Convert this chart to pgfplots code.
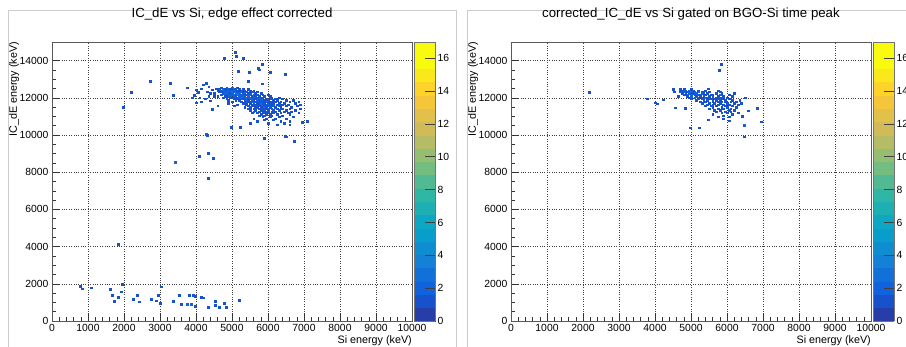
\documentclass[border=0pt]{standalone}
\usepackage{fontspec}
\setmainfont{Liberation Sans}
\usepackage{pgfplots}
\pgfplotsset{compat=1.18}
\usepackage{pgfplotstable}

\pgfplotstableread{
x y c
4778 14140 1
5083 14460 1
5111 14250 1
5306 14140 1
5833 13820 1
5722 13600 1
5750 13520 1
5167 13440 1
5472 13390 1
6056 13390 1
6472 13280 1
2722 12900 1
3278 12800 1
5444 12900 1
5833 12780 1
2194 12310 1
3361 12150 1
1972 11500 1
4278 12800 1
4278 10050 2
4300 10000 1
4333 9030 1
4083 8870 1
4472 8760 1
3417 8550 2
4333 7690 1
4972 10430 1
5222 10430 1
5889 9840 1
6472 9950 1
6500 9900 1
6722 9680 1
6944 10700 1
7083 10750 1
1833 4140 1
778 1880 1
833 1750 1
1083 1800 1
1611 1720 1
1944 1990 1
1917 1590 1
1667 1400 1
1833 1290 1
1722 1080 1
2250 1180 1
2361 1400 1
2417 1040 1
2750 1180 1
2889 1100 1
2944 1400 1
3000 970 1
3028 1860 1
3361 1080 1
3528 1400 1
3583 920 1
3806 1400 1
3750 920 2
3861 920 2
3917 1400 1
3972 1350 1
3972 800 1
4139 1290 1
4200 1250 1
4333 750 1
4528 1080 1
4528 860 1
4639 750 1
4778 970 1
4833 750 1
5185 1130 1
3750 12550 1
4000 12450 1
4050 12300 1
4150 12500 1
4300 12350 1
4350 12600 1
4400 12250 1
4450 12450 1
3950 12150 1
4100 12000 1
4250 11950 1
4500 12100 1
4550 12500 1
4200 12700 1
4400 11850 1
4150 11800 1
3900 12000 1
4600 11600 1
4450 11400 1
4000 11750 1
4350 12100 1
4700 12550 1
4850 12550 1
5000 12550 2
5150 12550 1
4650 12475 1
4750 12475 2
4800 12475 1
4900 12475 2
4950 12475 1
5050 12475 2
5100 12475 1
5200 12475 1
5300 12475 1
5450 12475 1
4600 12400 1
4700 12400 2
4750 12400 2
4850 12400 1
4900 12400 2
5000 12400 2
5050 12400 1
5100 12400 2
5150 12400 1
5250 12400 1
5350 12400 1
5500 12400 1
5600 12400 1
4650 12325 1
4700 12325 1
4800 12325 2
4850 12325 2
4950 12325 2
5000 12325 3
5050 12325 2
5150 12325 2
5200 12325 1
5250 12325 2
5300 12325 1
5400 12325 1
5550 12325 1
5700 12325 1
4500 12250 1
4750 12250 1
4800 12250 2
4900 12250 2
4950 12250 1
5000 12250 2
5100 12250 3
5150 12250 2
5200 12250 2
5300 12250 1
5350 12250 2
5450 12250 1
5500 12250 1
5650 12250 1
5800 12250 1
4700 12175 1
4850 12175 1
4900 12175 2
5000 12175 2
5050 12175 2
5100 12175 2
5150 12175 3
5250 12175 2
5300 12175 1
5350 12175 2
5400 12175 1
5500 12175 2
5600 12175 1
5700 12175 1
5850 12175 1
6000 12175 1
4600 12100 1
4800 12100 1
4900 12100 1
4950 12100 2
5050 12100 2
5100 12100 1
5200 12100 2
5250 12100 2
5300 12100 2
5350 12100 1
5450 12100 2
5550 12100 1
5600 12100 2
5650 12100 1
5750 12100 1
5900 12100 1
6050 12100 1
4750 12025 1
4950 12025 1
5000 12025 1
5100 12025 2
5150 12025 1
5200 12025 2
5300 12025 2
5350 12025 1
5400 12025 2
5500 12025 2
5550 12025 1
5650 12025 2
5700 12025 1
5800 12025 1
5850 12025 1
6100 12025 1
6300 12025 1
4850 11950 1
5050 11950 1
5150 11950 1
5250 11950 2
5300 11950 1
5400 11950 2
5450 11950 1
5500 11950 2
5600 11950 2
5650 11950 1
5700 11950 1
5750 11950 2
5850 11950 1
5950 11950 1
6050 11950 1
6200 11950 1
6400 11950 1
4900 11875 1
5100 11875 1
5200 11875 1
5350 11875 1
5400 11875 2
5450 11875 1
5550 11875 2
5600 11875 1
5700 11875 2
5750 11875 1
5800 11875 2
5900 11875 1
5950 11875 1
6000 11875 1
6150 11875 1
6250 11875 1
6500 11875 1
6700 11875 1
5000 11800 1
5250 11800 1
5350 11800 1
5450 11800 1
5500 11800 1
5550 11800 2
5600 11800 1
5650 11800 1
5750 11800 2
5800 11800 1
5850 11800 1
5950 11800 2
6050 11800 1
6100 11800 1
6200 11800 1
6350 11800 1
6600 11800 1
6850 11800 1
4900 11725 1
5300 11725 1
5400 11725 1
5500 11725 1
5600 11725 2
5700 11725 1
5750 11725 1
5800 11725 2
5900 11725 1
6000 11725 1
6050 11725 1
6150 11725 1
6300 11725 1
6450 11725 1
6750 11725 1
5150 11650 1
5400 11650 1
5550 11650 1
5650 11650 1
5700 11650 1
5800 11650 2
5850 11650 1
5950 11650 1
6000 11650 2
6100 11650 1
6250 11650 1
6400 11650 1
6550 11650 1
6900 11650 1
5050 11575 1
5450 11575 1
5550 11575 1
5650 11575 1
5750 11575 1
5850 11575 2
5900 11575 1
6000 11575 1
6050 11575 1
6150 11575 1
6300 11575 1
6500 11575 1
6800 11575 1
5350 11500 1
5500 11500 1
5650 11500 1
5700 11500 1
5800 11500 1
5900 11500 2
5950 11500 1
6050 11500 1
6200 11500 1
6350 11500 1
6650 11500 1
5450 11425 1
5600 11425 1
5750 11425 1
5850 11425 1
5950 11425 1
6000 11425 1
6100 11425 1
6250 11425 1
6400 11425 1
6600 11425 1
6900 11425 1
5500 11350 1
5650 11350 1
5800 11350 1
5900 11350 1
6000 11350 1
6150 11350 1
6300 11350 1
6500 11350 1
6750 11350 1
5600 11275 1
5750 11275 1
5850 11275 1
5950 11275 1
6100 11275 1
6200 11275 1
6450 11275 1
6650 11275 1
5550 11200 1
5700 11200 1
5900 11200 1
6000 11200 1
6150 11200 1
6350 11200 1
6550 11200 1
6850 11200 1
5800 11125 1
5950 11125 1
6050 11125 1
6250 11125 1
6600 11125 1
5750 11050 1
5900 11050 1
6100 11050 1
6400 11050 1
5850 10975 1
6050 10975 1
6300 10975 1
6700 10975 1
5600 10900 1
5950 10900 1
6200 10900 1
6500 10900 1
5900 10825 1
6150 10825 1
5700 10750 1
6350 10750 1
6600 10750 1
5500 10650 1
6000 10650 1
6450 10650 1
6250 10550 1
6600 10550 1
}\leftdata

\pgfplotstableread{
x y c
5833 13820 1
5787 13490 1
2175 12310 1
3769 11950 1
4000 11760 1
4213 11900 1
4065 11700 1
4509 12470 1
4528 12330 1
4556 11470 1
4833 11450 1
5481 12510 1
4972 10390 1
5231 10390 1
6481 10530 2
6481 9920 1
6935 10730 1
6833 11450 1
6583 11330 1
6426 11020 1
6065 10770 1
5898 10900 1
5481 10830 1
4700 12475 1
4800 12475 1
5000 12475 1
4750 12400 1
4850 12400 1
4950 12400 2
5050 12400 1
5200 12400 1
5400 12400 1
5750 12400 1
4700 12325 1
4800 12325 2
4900 12325 1
5000 12325 2
5100 12325 1
5200 12325 2
5300 12325 1
5500 12325 1
5800 12325 1
4750 12250 1
4850 12250 1
4950 12250 2
5050 12250 1
5150 12250 2
5300 12250 2
5350 12250 1
5450 12250 1
5700 12250 1
5850 12250 1
6200 12250 1
4800 12175 1
4900 12175 1
5000 12175 2
5100 12175 1
5200 12175 2
5250 12175 1
5400 12175 1
5550 12175 1
5600 12175 1
5800 12175 2
6050 12175 1
4650 12100 1
4900 12100 1
5000 12100 2
5150 12100 1
5250 12100 1
5350 12100 1
5500 12100 1
5600 12100 1
5750 12100 1
5900 12100 1
6150 12100 1
4950 12025 1
5100 12025 2
5200 12025 1
5300 12025 1
5400 12025 2
5450 12025 1
5600 12025 1
5700 12025 1
5800 12025 2
5850 12025 1
6000 12025 1
6500 12025 1
5000 11950 1
5200 11950 1
5300 11950 1
5500 11950 1
5550 11950 1
5650 11950 1
5750 11950 1
5900 11950 1
6050 11950 1
6100 11950 1
5150 11875 1
5350 11875 1
5450 11875 1
5600 11875 1
5700 11875 1
5800 11875 1
5950 11875 1
6150 11875 1
6350 11875 1
5250 11800 1
5400 11800 1
5600 11800 1
5750 11800 1
5850 11800 1
5950 11800 1
6100 11800 1
6250 11800 1
5300 11725 1
5500 11725 1
5650 11725 1
5800 11725 1
6000 11725 1
6200 11725 1
6400 11725 1
5450 11650 1
5600 11650 1
5750 11650 1
5900 11650 1
6050 11650 1
6300 11650 1
5400 11575 1
5550 11575 1
5700 11575 1
5950 11575 1
6150 11575 1
5600 11500 1
5850 11500 1
6000 11500 1
6250 11500 1
5500 11425 1
5750 11425 1
5900 11425 1
6100 11425 1
5650 11350 1
5800 11350 1
6050 11350 1
6200 11350 1
5700 11275 1
5950 11275 1
6100 11275 1
5850 11200 1
6000 11200 1
6300 11200 1
5600 11125 1
6150 11125 1
5900 11050 1
5750 10975 1
6050 10975 1
}\rightdata

\pgfplotsset{
  rootaxis/.style={
    scale only axis, width=360bp, height=279bp, anchor=south west,
    xmin=0, xmax=10000, ymin=0, ymax=15000,
    xtick={0,1000,...,10000}, ytick={0,2000,...,14000},
    minor x tick num=4, minor y tick num=3,
    tick pos=left, tick align=inside,
    major tick length=8bp, minor tick length=4bp,
    every tick/.style={black!80, line width=0.6bp},
    grid=major, major grid style={black!75, dotted, line width=0.55bp},
    axis line style={black!65, line width=0.8bp},
    ticklabel style={font=\fontsize{10.4}{12}\selectfont},
    /pgf/number format/assume math mode=true,
    /pgf/number format/set thousands separator={},
    scaled ticks=false,
    xlabel={Si energy (keV)}, ylabel={IC\_dE energy (keV)},
    label style={font=\fontsize{10.8}{12}\selectfont},
    xlabel style={at={(axis description cs:1,0)}, anchor=north east, yshift=-15bp, inner sep=0pt},
    title style={at={(axis description cs:0.5,1)}, anchor=base, yshift=18.5bp, font=\fontsize{13.3}{15}\selectfont, inner sep=0pt},
    colormap={rootbird}{rgb255=(39,61,168) rgb255=(23,81,203) rgb255=(16,99,220) rgb255=(18,113,217)
      rgb255=(20,128,214) rgb255=(14,142,209) rgb255=(9,157,204) rgb255=(13,167,195)
      rgb255=(30,175,179) rgb255=(46,183,164) rgb255=(82,186,146) rgb255=(116,189,129)
      rgb255=(150,190,113) rgb255=(180,188,101) rgb255=(209,187,89) rgb255=(226,192,74)
      rgb255=(245,198,58) rgb255=(253,211,42) rgb255=(251,232,27) rgb255=(249,251,14) rgb255=(249,251,14)},
    colormap access=piecewise constant,
    point meta min=0, point meta max=17,
    colorbar,
    colorbar shift/.style={},
    colorbar style={at={(parent axis.north east)}, anchor=north west, xshift=2bp,
      scale only axis, width=21bp, height=279bp,
      ytick={0,2,...,16}, xtick=\empty,
      ytick pos=right, yticklabel pos=right, tick align=inside,
      major tick length=10bp, minor tick length=0pt,
      every tick/.style={black!75, line width=0.8bp},
      axis line style={black!55, line width=0.5bp},
      yticklabel style={font=\fontsize{10.4}{12}\selectfont, xshift=-1bp},
      /pgf/number format/assume math mode=true},
  },
  histplot/.style={scatter, only marks, mark=square*, mark size=0.9bp,
    scatter/use mapped color={draw=mapped color, fill=mapped color},
    mark options={yscale=0.75, line width=0.1bp}, point meta=explicit},
}

\begin{document}
\begin{tikzpicture}
\useasboundingbox (0,0) rectangle (906bp,-347bp);
\draw[black!20, line width=0.8bp] (8bp,-347bp) -- (8bp,-10bp) -- (456bp,-10bp) -- (456bp,-347bp);
\draw[black!20, line width=0.8bp] (467bp,-347bp) -- (467bp,-10bp) -- (906bp,-10bp);

\begin{axis}[rootaxis, at={(52bp,-321bp)},
  title={IC\_dE vs Si, edge effect corrected},
  ylabel style={at={(axis description cs:-0.105,1)}, anchor=east, inner sep=0pt}]
\addplot[histplot] table[x=x, y=y, meta=c] {\leftdata};
\end{axis}

\begin{axis}[rootaxis, at={(511bp,-321bp)},
  title={corrected\_IC\_dE vs Si gated on BGO-Si time peak},
  ylabel style={at={(axis description cs:-0.105,1)}, anchor=east, inner sep=0pt}]
\addplot[histplot] table[x=x, y=y, meta=c] {\rightdata};
\end{axis}
\end{tikzpicture}
\end{document}
